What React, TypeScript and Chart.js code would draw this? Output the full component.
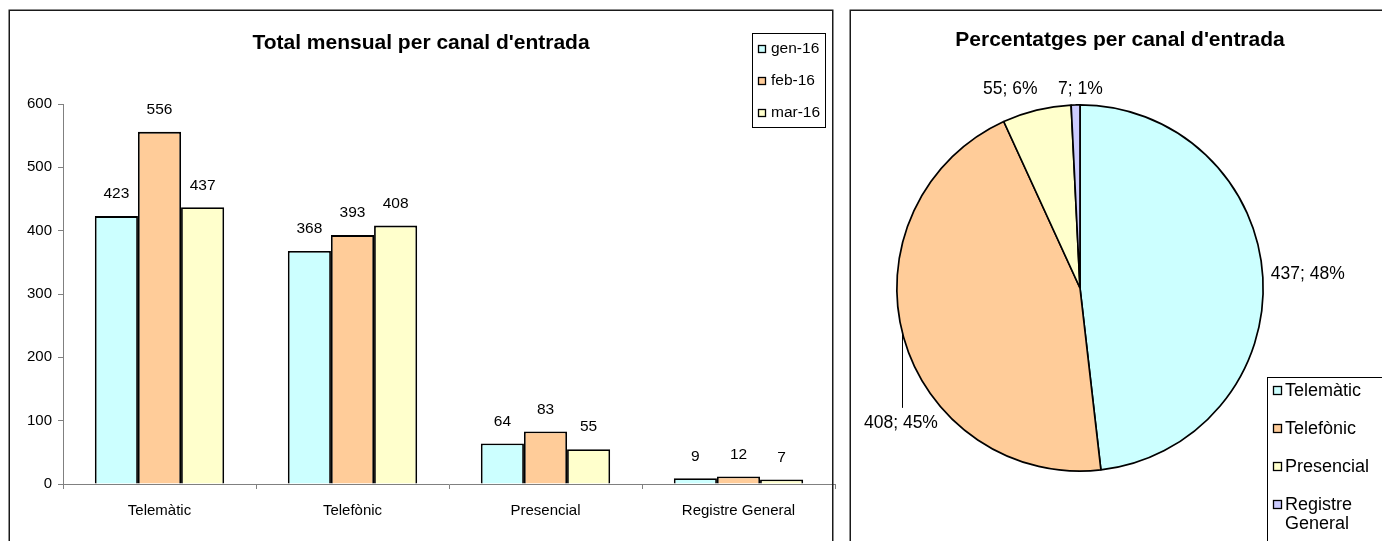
import React, { useEffect, useRef } from "react";
import { Chart, registerables } from "chart.js";

Chart.register(...registerables);

const FONT = "'Liberation Sans', Arial, Helvetica, sans-serif";

const barTitle = "Total mensual per canal d'entrada";
const pieTitle = "Percentatges per canal d'entrada";
const categories = ["Telemàtic", "Telefònic", "Presencial", "Registre General"];
const months = ["gen-16", "feb-16", "mar-16"];
const gen16 = [423, 368, 64, 9];
const feb16 = [556, 393, 83, 12];
const mar16 = [437, 408, 55, 7];
const yMin = 0;
const yMax = 600;
const yStep = 100;
const pieLabels = ["Telemàtic", "Telefònic", "Presencial", "Registre General"];
const pieValues = [437, 408, 55, 7];
const colors = ["#CCFFFF", "#FFCC99", "#FFFFCC", "#CCCCFF"];
// label nudges (style only)
const pieLabelShift: [number, number][] = [[35, -3], [7, 83], [-24, -11], [5, -6]];
const pieLeader = [false, true, false, false];

const LEFT_W = 840;
const RIGHT_X = 840;
const RIGHT_W = 542;
const H = 541;

const barDecor = {
  id: "barDecor",
  afterDraw(chart: any) {
    const ctx = chart.ctx as CanvasRenderingContext2D;
    ctx.save();
    ctx.strokeStyle = "#1a1a1a";
    ctx.lineWidth = 1.5;
    ctx.strokeRect(9.25, 10.25, 823.5, 600);
    ctx.fillStyle = "#000";
    ctx.textAlign = "center";
    ctx.textBaseline = "middle";
    ctx.font = `bold 21px ${FONT}`;
    ctx.fillText(barTitle, 421, 43);
    ctx.font = `15.5px ${FONT}`;
    chart.data.datasets.forEach((ds: any, i: number) => {
      const meta = chart.getDatasetMeta(i);
      meta.data.forEach((el: any, j: number) => {
        ctx.fillText(String(ds.data[j]), el.x, el.y - 22);
      });
    });
    // legend
    ctx.lineWidth = 1;
    ctx.strokeStyle = "#000";
    ctx.strokeRect(752.5, 33.5, 73, 94);
    ctx.textAlign = "left";
    ctx.lineWidth = 1.3;
    months.forEach((m, i) => {
      const cy = 49 + i * 32;
      ctx.fillStyle = colors[i];
      ctx.fillRect(758.5, cy - 3.5, 7, 7);
      ctx.strokeRect(758.5, cy - 3.5, 7, 7);
      ctx.fillStyle = "#000";
      ctx.fillText(m, 771, cy);
    });
    ctx.restore();
  },
};

const pieDecor = {
  id: "pieDecor",
  afterDraw(chart: any) {
    const ctx = chart.ctx as CanvasRenderingContext2D;
    ctx.save();
    ctx.strokeStyle = "#1a1a1a";
    ctx.lineWidth = 1.5;
    ctx.strokeRect(10.25, 10.25, 700, 600);
    ctx.fillStyle = "#000";
    ctx.textAlign = "center";
    ctx.textBaseline = "middle";
    ctx.font = `bold 21px ${FONT}`;
    ctx.fillText(pieTitle, 280, 40);

    const values = chart.data.datasets[0].data as number[];
    const total = values.reduce((a, b) => a + b, 0);
    const meta = chart.getDatasetMeta(0);
    ctx.font = `17.5px ${FONT}`;
    ctx.lineWidth = 1;
    ctx.strokeStyle = "#000";
    meta.data.forEach((arc: any, i: number) => {
      const p = arc.getProps(["x", "y", "startAngle", "endAngle", "outerRadius"], true);
      const mid = (p.startAngle + p.endAngle) / 2;
      const ax = p.x + Math.cos(mid) * (p.outerRadius + 10);
      const ay = p.y + Math.sin(mid) * (p.outerRadius + 10);
      const lx = ax + pieLabelShift[i][0];
      const ly = ay + pieLabelShift[i][1];
      const txt = `${values[i]}; ${Math.round((values[i] / total) * 100)}%`;
      ctx.fillText(txt, lx, ly);
      if (pieLeader[i]) {
        const x0 = lx + 1;
        const dx = x0 - p.x;
        const cy = p.y + Math.sqrt(Math.max(0, p.outerRadius * p.outerRadius - dx * dx));
        ctx.beginPath();
        ctx.moveTo(Math.round(x0) + 0.5, cy);
        ctx.lineTo(Math.round(x0) + 0.5, ly - 15);
        ctx.stroke();
      }
    });

    // legend
    const boxX = 1267 - RIGHT_X;
    ctx.strokeRect(boxX + 0.5, 377.5, 300, 300);
    ctx.textAlign = "left";
    ctx.font = `18px ${FONT}`;
    const textX = boxX + 18;
    const maxW = RIGHT_W - textX - 2;
    let y = 391;
    ctx.lineWidth = 1.3;
    pieLabels.forEach((lab, i) => {
      ctx.fillStyle = colors[i];
      ctx.fillRect(boxX + 6.5, y - 4.5, 8, 8);
      ctx.strokeRect(boxX + 6.5, y - 4.5, 8, 8);
      ctx.fillStyle = "#000";
      const words = lab.split(" ");
      const lines: string[] = [];
      let cur = "";
      words.forEach((w) => {
        const t = cur ? cur + " " + w : w;
        if (cur && ctx.measureText(t).width > maxW) {
          lines.push(cur);
          cur = w;
        } else cur = t;
      });
      lines.push(cur);
      lines.forEach((ln, k) => ctx.fillText(ln, textX, y + k * 19));
      y += 38;
    });
    ctx.restore();
  },
};

export default function App() {
  const barRef = useRef<HTMLCanvasElement>(null);
  const pieRef = useRef<HTMLCanvasElement>(null);

  useEffect(() => {
    Chart.defaults.font.family = FONT;
    Chart.defaults.color = "#000";
    const bar = new Chart(barRef.current!, {
      type: "bar",
      data: {
        labels: categories,
        datasets: [gen16, feb16, mar16].map((d, i) => ({
          label: months[i],
          data: d,
          backgroundColor: colors[i],
          borderColor: "#000",
          borderWidth: 1.8,
          categoryPercentage: 0.67,
          barPercentage: 1,
        })),
      },
      options: {
        responsive: false,
        animation: false,
        layout: { padding: { left: 0, right: 5, top: 104, bottom: 0 } },
        plugins: { legend: { display: false }, tooltip: { enabled: false }, title: { display: false } },
        scales: {
          x: {
            grid: { display: true, drawOnChartArea: false, drawTicks: true, tickLength: 5, color: "#808080", offset: true },
            border: { display: true, color: "#808080" },
            ticks: { font: { size: 15 }, color: "#000", padding: 13, maxRotation: 0 },
            afterFit: (s: any) => { s.height = H - 484; },
          },
          y: {
            min: yMin,
            max: yMax,
            grid: { display: true, drawOnChartArea: false, drawTicks: true, tickLength: 5, color: "#808080" },
            border: { display: true, color: "#808080" },
            ticks: { stepSize: yStep, font: { size: 15 }, color: "#000", padding: 6 },
            afterFit: (s: any) => { s.width = 63; },
          },
        },
      },
      plugins: [barDecor],
    } as any);

    const pie = new Chart(pieRef.current!, {
      type: "pie",
      data: {
        labels: pieLabels,
        datasets: [{ data: pieValues, backgroundColor: colors, borderColor: "#000", borderWidth: 1.7 }],
      },
      options: {
        responsive: false,
        animation: false,
        layout: { padding: { left: 56, right: 118, top: 104, bottom: 69 } },
        plugins: { legend: { display: false }, tooltip: { enabled: false }, title: { display: false } },
      },
      plugins: [pieDecor],
    } as any);

    return () => {
      bar.destroy();
      pie.destroy();
    };
  }, []);

  return (
    <div style={{ position: "fixed", left: 0, top: 0, width: 1382, height: H, background: "#fff", overflow: "hidden" }}>
      <canvas ref={barRef} width={LEFT_W} height={H} style={{ position: "absolute", left: 0, top: 0, width: LEFT_W, height: H }} />
      <canvas ref={pieRef} width={RIGHT_W} height={H} style={{ position: "absolute", left: RIGHT_X, top: 0, width: RIGHT_W, height: H }} />
    </div>
  );
}
